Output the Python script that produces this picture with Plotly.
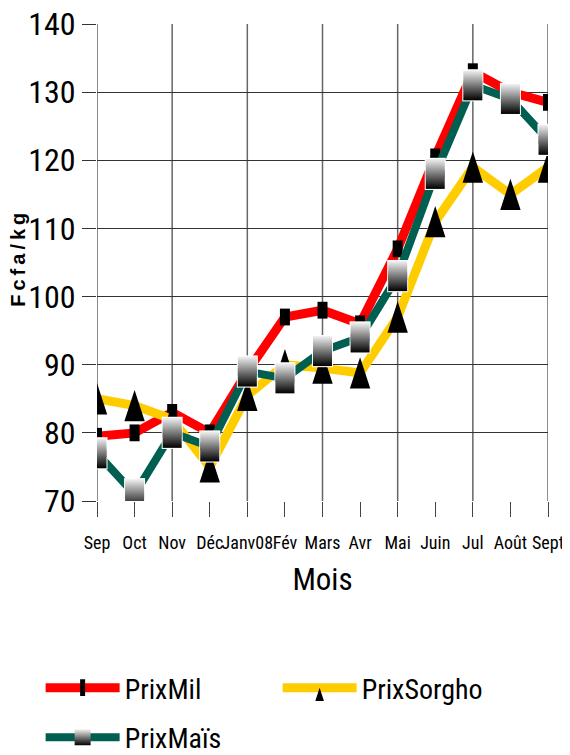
import plotly.graph_objects as go

months = ["Sep", "Oct", "Nov", "Déc", "Janv08", "Fév", "Mars", "Avr", "Mai", "Juin", "Jul", "Août", "Sept"]
prix_mil = [79.5, 80, 83, 80, 89, 97, 98, 96, 107, 120.5, 133, 130, 128.5]
prix_sorgho = [85, 84, 82, 75, 85.5, 90, 89.5, 88.8, 97, 111, 119, 115, 119]
prix_mais = [77, 71, 80, 78, 89, 88, 92, 94, 103, 118, 131, 129, 123]
y_ticks = [70, 80, 90, 100, 110, 120, 130, 140]
y_title = "F\u2009c\u2009f\u2009a\u2009/\u2009k\u2009g"

xi = list(range(len(months)))
Y0, Y1 = 70, 140
plot_h = 477
ppu = plot_h / (Y1 - Y0)  # pixels per unit

FONT = "Roboto Condensed, Liberation Sans Narrow, Liberation Sans, Arial"

tri_size = 33
tri_shift = 0.951 * tri_size / 2 / ppu
sq_shift = 5.5 / ppu

fig = go.Figure()

fig.add_trace(go.Scatter(
    x=xi, y=prix_mil, name="PrixMil", mode="lines+markers",
    line=dict(color="#ff0000", width=9),
    marker=dict(symbol="line-ns", size=12, color="black",
                line=dict(color="black", width=10)),
    xaxis="x", yaxis="y", legend="legend"))

fig.add_trace(go.Scatter(
    x=xi, y=prix_sorgho, name="PrixSorgho", mode="lines",
    line=dict(color="#ffcc00", width=9), showlegend=False,
    xaxis="x", yaxis="y"))

fig.add_trace(go.Scatter(
    x=[None], y=[None], name="PrixSorgho", mode="lines+markers",
    line=dict(color="#ffcc00", width=9),
    marker=dict(symbol="arrow", size=14, color="black"),
    xaxis="x", yaxis="y", legend="legend"))

fig.add_trace(go.Scatter(
    x=xi, y=prix_sorgho, mode="markers", showlegend=False,
    marker=dict(symbol="arrow", size=tri_size, color="black", line=dict(width=0)),
    xaxis="x", yaxis="y2"))

fig.add_trace(go.Scatter(
    x=xi, y=prix_mais, name="PrixMaïs", mode="lines+markers",
    line=dict(color="#005f50", width=8),
    marker=dict(symbol="square", size=19, color="#f2f2f2", line=dict(width=0),
                gradient=dict(type="vertical", color="#000000")),
    xaxis="x", yaxis="y3", legend="legend2"))

fig.add_trace(go.Scatter(
    x=xi, y=prix_mais, mode="markers", showlegend=False,
    marker=dict(symbol="line-ns", size=23, color="white",
                line=dict(color="white", width=21)),
    xaxis="x", yaxis="y3"))

fig.add_trace(go.Scatter(
    x=xi, y=prix_mais, mode="markers", showlegend=False,
    marker=dict(symbol="square", size=19, color="#f2f2f2", line=dict(width=0),
                gradient=dict(type="vertical", color="#595959")),
    xaxis="x", yaxis="y4"))

fig.add_trace(go.Scatter(
    x=xi, y=prix_mais, mode="markers", showlegend=False,
    marker=dict(symbol="square", size=19, color="#999999", line=dict(width=0),
                gradient=dict(type="vertical", color="#000000")),
    xaxis="x", yaxis="y5"))

# vertical grid lines every other month
for i in xi[::2]:
    fig.add_shape(type="line", xref="x", yref="paper", x0=i, x1=i, y0=0, y1=1,
                  line=dict(color="#666", width=1.5), layer="below")

# y-axis title placed explicitly
fig.add_annotation(text=y_title, textangle=-90, showarrow=False,
                   xref="paper", yref="paper", x=-0.176, y=0.505,
                   xanchor="center", yanchor="middle",
                   font=dict(size=20, family="Liberation Sans, Arial",
                             weight="bold", color="black"))

hidden = dict(overlaying="y", visible=False, fixedrange=True, automargin=False)

leg_common = dict(orientation="h", xanchor="left", yanchor="middle",
                  font=dict(size=28, family=FONT), itemwidth=74,
                  bgcolor="rgba(0,0,0,0)", borderwidth=0)

# page body has an 8px margin: figure is 562x747 and starts at (8, 8)
fig.update_layout(
    width=562, height=747,
    margin=dict(l=89, r=22, t=16, b=254, autoexpand=False),
    paper_bgcolor="white", plot_bgcolor="white",
    font=dict(family=FONT, color="black"),
    xaxis=dict(
        range=[0, len(months) - 1], tickvals=xi, ticktext=months,
        ticks="outside", ticklen=15, tickcolor="#444", tickwidth=1,
        showgrid=False, zeroline=False, showline=False, tickangle=0,
        tickfont=dict(size=18, family=FONT), ticklabelstandoff=10,
        ticklabeloverflow="allow",
        title=dict(text="Mois", font=dict(size=31, family=FONT), standoff=16),
        automargin=False, fixedrange=True),
    yaxis=dict(
        range=[Y0, Y1], tickvals=y_ticks,
        ticks="outside", ticklen=14, tickcolor="#333", tickwidth=1,
        showgrid=True, gridcolor="#333", gridwidth=1,
        zeroline=False, showline=False,
        tickfont=dict(size=32, family=FONT), ticklabeloverflow="allow",
        automargin=False, fixedrange=True),
    yaxis2=dict(range=[Y0 - tri_shift, Y1 - tri_shift], **hidden),
    yaxis3=dict(range=[Y0, Y1], **hidden),
    yaxis4=dict(range=[Y0 - sq_shift, Y1 - sq_shift], **hidden),
    yaxis5=dict(range=[Y0 + sq_shift, Y1 + sq_shift], **hidden),
    showlegend=True,
    legend=dict(x=-0.125, y=-0.392, entrywidth=148, **leg_common),
    legend2=dict(x=-0.125, y=-0.496, **leg_common),
)

fig.write_html("out.html")
